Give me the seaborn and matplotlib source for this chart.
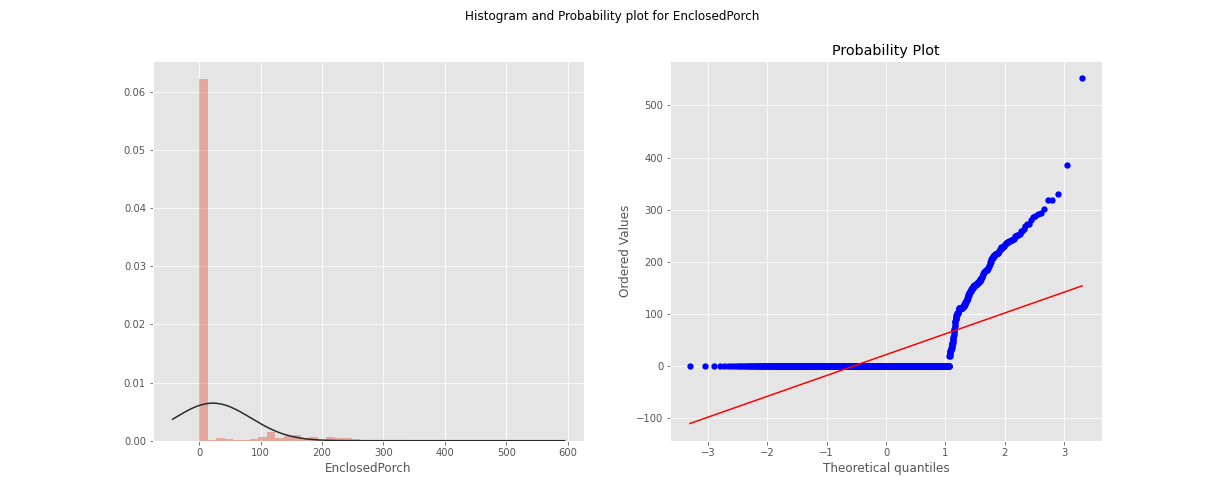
from statistics import NormalDist

import matplotlib

matplotlib.use("Agg")
import matplotlib.pyplot as plt
import numpy as np
import pandas as pd
import seaborn as sns

column_name = "EnclosedPorch"
zero_count = 1252

# non-zero porch areas and how often each one occurs (read off the hist / probability plot)
porch_values = [
    19, 20, 24, 26,
    30, 32, 34, 36, 39, 40,
    42, 44, 48, 52,
    56, 60, 64, 68,
    70, 72, 77, 80,
    84, 86, 90, 94,
    98, 100, 102, 105, 108,
    112, 114, 116, 120, 123,
    126, 128, 130, 136,
    140, 143, 144, 148, 150,
    154, 156, 158, 160, 162, 164,
    168, 170, 172, 176,
    180, 183, 184, 185, 189, 192,
    196, 200, 205,
    208, 212, 214, 216, 218,
    221, 224, 228, 230, 234,
    236, 239, 240, 242, 244,
    250, 252, 254, 260,
    264, 268, 272,
    280, 286, 288,
    291, 294, 301,
    318, 330, 386, 552,
]
porch_counts = [
    1, 1, 1, 1,
    2, 2, 2, 2, 1, 1,
    2, 2, 1, 2,
    1, 1, 1, 1,
    1, 1, 1, 1,
    2, 1, 2, 2,
    2, 3, 3, 2, 3,
    15, 3, 5, 4, 2,
    3, 3, 2, 3,
    3, 3, 3, 3, 4,
    3, 5, 3, 3, 4, 3,
    2, 2, 2, 3,
    3, 2, 3, 2, 2, 2,
    1, 2, 1,
    3, 2, 2, 3, 3,
    2, 2, 3, 2, 1,
    2, 2, 2, 2, 2,
    2, 2, 1, 2,
    1, 1, 2,
    1, 1, 1,
    1, 1, 1,
    2, 1, 1, 1,
]
n_bins = 40


def build_series() -> pd.Series:
    values = np.concatenate([np.zeros(zero_count), np.repeat(porch_values, porch_counts)])
    return pd.Series(values, name=column_name)


def plot_hist_with_norm(ax, data: pd.Series) -> None:
    sns.histplot(
        data,
        bins=n_bins,
        stat="density",
        color="#E24A33",
        alpha=0.4,
        linewidth=0,
        ax=ax,
    )
    # normal fit like distplot(fit=norm)
    mu, sigma = data.mean(), data.std(ddof=0)
    bw = len(data) ** (-1 / 5) * data.std(ddof=1)
    grid = np.linspace(data.min() - 3 * bw, data.max() + 3 * bw, 200)
    pdf = np.exp(-0.5 * ((grid - mu) / sigma) ** 2) / (sigma * np.sqrt(2 * np.pi))
    ax.plot(grid, pdf, color="#282828", lw=1.5)
    ax.set_ylabel("")
    ax.set_xlabel(column_name)


def plot_probability(ax, data: pd.Series) -> None:
    n = len(data)
    positions = (np.arange(1, n + 1) - 0.3175) / (n + 0.365)
    positions[-1] = 0.5 ** (1.0 / n)
    positions[0] = 1 - positions[-1]
    dist = NormalDist()
    osm = np.array([dist.inv_cdf(p) for p in positions])
    osr = np.sort(data.to_numpy())
    slope, intercept = np.polyfit(osm, osr, 1)

    sns.scatterplot(x=osm, y=osr, color="blue", s=40, linewidth=0, ax=ax)
    ax.plot(osm, slope * osm + intercept, color="red", lw=1.5)
    ax.set_title("Probability Plot")
    ax.set_xlabel("Theoretical quantiles")
    ax.set_ylabel("Ordered Values")


plt.style.use("ggplot")
data = build_series()

fig, (ax_hist, ax_prob) = plt.subplots(1, 2, figsize=(17, 7), dpi=72)
fig.subplots_adjust(left=0.125, right=0.9, bottom=0.1256, top=0.879, wspace=0.2)
fig.suptitle(f"Histogram and Probability plot for {column_name}")

plot_hist_with_norm(ax_hist, data)
plot_probability(ax_prob, data)

fig.savefig("out.png", dpi=72)
plt.close(fig)
